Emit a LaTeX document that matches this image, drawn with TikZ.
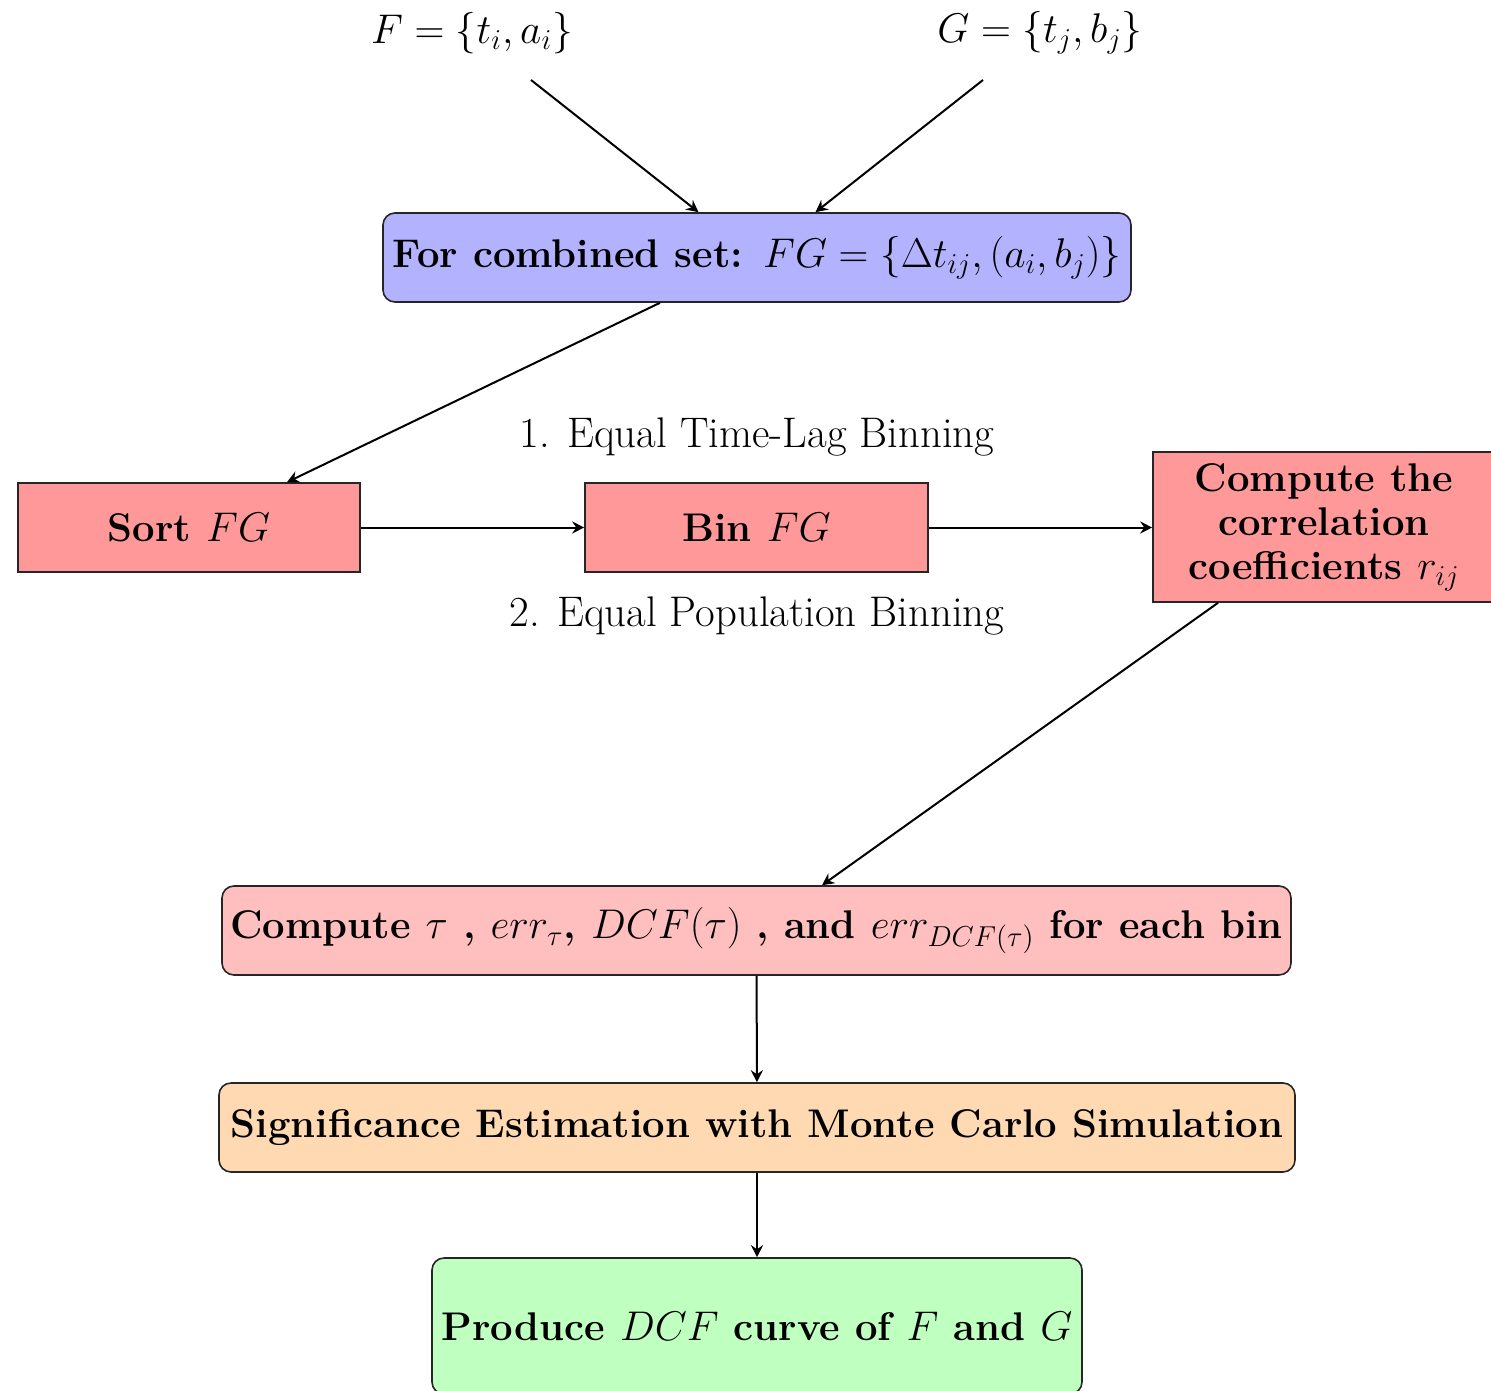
\documentclass[tikz,border=0pt]{standalone}
\usetikzlibrary{arrows.meta,calc}
\begin{document}
\begin{tikzpicture}[x=0.5pt,y=-0.5pt,
  every node/.style={font=\fontsize{20}{22}\selectfont},
  box/.style={draw=black!85, line width=0.8pt, align=center, inner sep=4pt,
    font=\fontsize{20}{22}\selectfont\bfseries},
  rbox/.style={box, rounded corners=6pt},
  binlabel/.style={font=\fontsize{21.4}{24}\selectfont},
  conn/.style={line width=1pt, -{Stealth[length=6pt,width=6pt,inset=2pt]}}
]
\useasboundingbox (0,0) rectangle (1491,1390);
\begin{scope}
\clip (0,0) rectangle (1491,1390);

% input series
\node (F) at (472,33) {$F=\{t_i,a_i\}$};
\node (G) at (1040,33) {$G=\{t_j,b_j\}$};
\coordinate (fs) at (531,80);
\coordinate (gs) at (983,80);

% combined set
\node[rbox, fill=blue!30, minimum width=374pt, minimum height=44.5pt] (comb) at (757,257.5)
  {For combined set: $FG=\{\Delta t_{ij},(a_i,b_j)\}$};

% sorting, binning, coefficients
\node[box, fill=red!40, minimum width=171pt, minimum height=44.5pt] (sort) at (189,527.5) {Sort $FG$};
\node[box, fill=red!40, minimum width=171.5pt, minimum height=44.5pt] (bin) at (756.5,527.5) {Bin $FG$};
\node[box, fill=red!40, minimum width=171pt, minimum height=75pt] (coef) at (1324,527)
  {Compute the\\correlation\\coefficients $r_{ij}$};

\node[binlabel] (lag) at (757,437) {1. Equal Time-Lag Binning};
\node[binlabel] (pop) at (757,616) {2. Equal Population Binning};

% per-bin results
\node[rbox, fill=red!25, minimum width=534.5pt, minimum height=44.5pt] (tau) at (756.5,930.5)
  {Compute $\tau$ , $err_{\tau}$, $DCF(\tau)$ , and $err_{DCF(\tau)}$ for each bin};
\node[rbox, fill=orange!30, minimum width=538pt, minimum height=44.5pt] (sig) at (757,1127.5)
  {Significance Estimation with Monte Carlo Simulation};
\node[rbox, fill=green!25, minimum width=325pt, minimum height=68pt] (dcf) at (757,1326)
  {Produce $DCF$ curve of $F$ and $G$};

% connectors
\draw[conn] (fs) -- ([xshift=-29.25pt]comb.north);
\draw[conn] (gs) -- ([xshift=29.25pt]comb.north);
\draw[conn] ([xshift=-48.5pt]comb.south) -- ([xshift=49pt]sort.north);
\draw[conn] (sort) -- (bin);
\draw[conn] (bin.east) -- (bin.east -| coef.west);
\draw[conn] ([xshift=-53pt]coef.south) -- ([xshift=32.75pt]tau.north);
\draw[conn] (tau) -- (sig);
\draw[conn] (sig) -- (dcf);
\end{scope}
\end{tikzpicture}
\end{document}
